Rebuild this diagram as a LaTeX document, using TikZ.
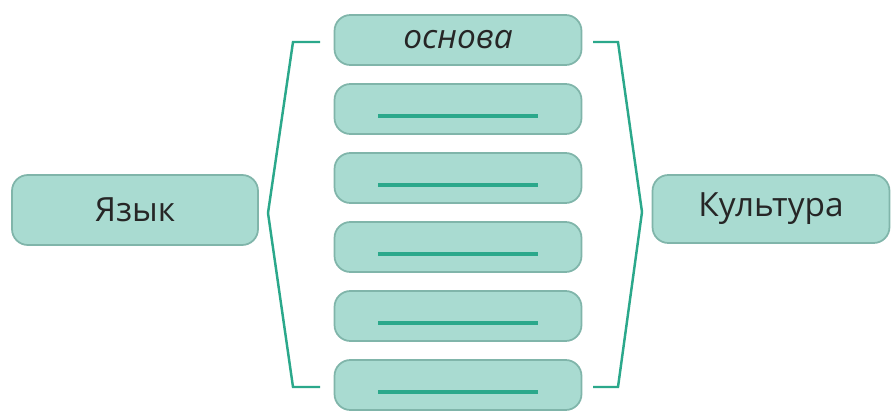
\documentclass[tikz,border=0pt]{standalone}
\usepackage{fontspec}
\setmainfont{Open Sans}
\definecolor{boxfill}{HTML}{A9DBD1}
\definecolor{boxline}{HTML}{80B5AA}
\definecolor{tealline}{HTML}{2BA88B}
\begin{document}
\begin{tikzpicture}[x=0.02cm, y=-0.02cm,
    box/.style={draw=boxline, fill=boxfill, rounded corners=9pt, line width=1pt, inner sep=0pt, text=black!85, font=\fontsize{19}{22}\selectfont},
    midbox/.style={box, minimum width=4.94cm, minimum height=1cm},
    blank/.style={tealline, line width=2.4pt}] %1
            \useasboundingbox (0,0) rectangle (893,412);

            \node[box, minimum width=4.92cm, minimum height=1.4cm] (lang) at (135,210) {Язык};
            \node[box, minimum width=4.74cm, minimum height=1.36cm] (cult) at (771,209) {Культура};

            \node[midbox] (b1) at (458,40) {\textit{основа}};
            \node[midbox] (b2) at (458,109) {};
            \node[midbox] (b3) at (458,178) {};
            \node[midbox] (b4) at (458,247) {};
            \node[midbox] (b5) at (458,316) {};
            \node[midbox] (b6) at (458,385) {};

            \foreach \b in {b2,b3,b4,b5,b6}
                \draw[blank] ([xshift=-1.6cm,yshift=-0.14cm]\b.center) -- ([xshift=1.6cm,yshift=-0.14cm]\b.center);

            %left bracket
            \coordinate (lt) at (320,42);
            \coordinate (lb) at (320,387);
            \coordinate (la) at (268,213);
            \draw[tealline, line width=1.4pt] (lt) -- (293,42) -- (la) -- (293,387) -- (lb);

            %right bracket
            \coordinate (rt) at (593,42);
            \coordinate (rb) at (593,387);
            \coordinate (ra) at (642,212);
            \draw[tealline, line width=1.4pt] (rt) -- (618,42) -- (ra) -- (618,387) -- (rb);
        \end{tikzpicture}
\end{document}
